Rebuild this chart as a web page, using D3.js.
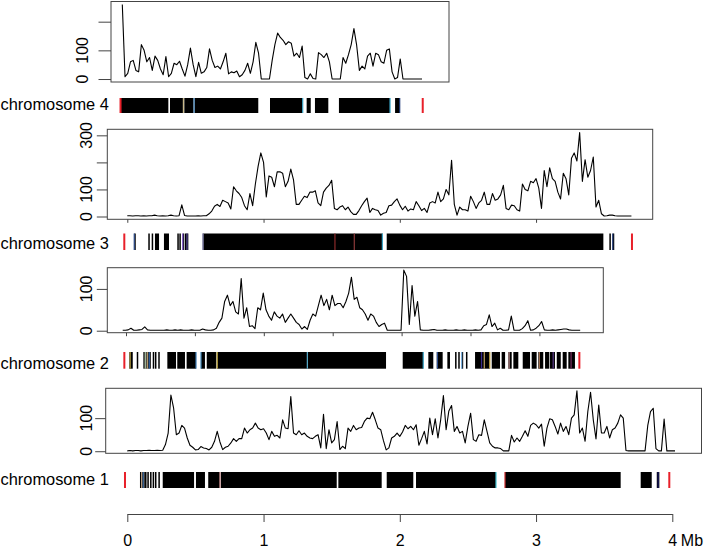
<!DOCTYPE html>
<html>
<head>
<meta charset="utf-8">
<title>Coverage along chromosomes</title>
<script src="https://d3js.org/d3.v7.min.js"></script>
<style>
  body { margin: 0; background: #fff; }
  svg text { font-family: "Liberation Sans", Arial, sans-serif; fill: #000; }
</style>
</head>
<body>
<svg width="705" height="547"></svg>
<script>
// ---------- data ----------
const chrNames = ["chromosome 4", "chromosome 3", "chromosome 2", "chromosome 1"]
const covStep = 0.02               // Mb between coverage points
const covStart = [0, 0, -0.024, 0] // Mb of first point

const chr4Cov = [260,8,20,60,65,30,25,120,100,60, 75,30,80,65,35,15,78,8,20,55,
  50,62,35,10,50,108,50,8,58,20, 25,40,105,65,40,45,35,60,90,18,
  25,22,28,8,15,30,55,20,60,128, 90,0,0,0,0,65,120,160,145,135,
  120,130,125,80,90,75,115,5,0,18, 2,0,92,85,75,90,60,0,0,0,
  0,75,55,85,120,176,118,30,45,35, 80,90,45,90,85,60,55,100,105,25,
  0,5,70,0,0,0,0,0,0,0, 0]

const chr3Cov = [3,3,2,3,3,2,3,2,3,3, 5,3,2,3,2,3,5,3,2,3,
  43,4,2,2,2,2,3,2,3,3, 10,20,38,45,37,60,55,50,28,110,
  95,85,70,40,25,85,40,120,185,235, 200,72,150,145,110,165,165,160,110,130,
  175,135,45,45,60,75,70,90,90,95, 50,40,90,105,115,134,30,25,35,40,
  25,35,18,8,8,22,40,55,68,15, 30,25,22,5,12,15,40,42,55,65,
  42,25,38,20,28,25,55,40,22,30, 15,50,55,50,90,55,65,100,80,208,
  45,5,35,25,25,20,75,55,30,50, 60,90,45,45,85,60,65,80,115,30,
  25,42,40,25,20,120,100,95,130,125, 140,105,30,170,110,180,140,130,90,65,
  160,140,80,215,235,205,310,130,210,145, 170,220,35,60,10,2,3,5,5,3,
  2,2,2,2,2,2]

const chr2Cov = [1,1,2,6,1,1,2,3,9,2, 1,1,1,1,1,1,2,1,1,2,
  1,2,1,1,1,2,1,1,1,4, 2,1,1,2,6,20,30,70,85,60,
  70,45,40,125,30,55,10,12,5,55, 50,90,50,35,25,45,35,30,40,20,
  30,40,30,20,15,4,10,3,25,40, 35,60,85,60,75,50,85,60,65,65,
  55,70,90,128,75,80,55,50,40,25, 40,35,20,10,15,18,1,1,1,1,
  1,1,145,130,15,108,35,70,2,1, 1,1,2,3,1,1,1,2,1,1,
  1,2,1,1,2,1,1,1,2,1, 2,12,15,38,10,18,2,6,1,1,
  2,35,1,1,1,5,12,24,1,2, 6,12,22,2,1,1,2,1,2,3,
  4,4,2,1,1,1,1]

const chr1Cov = [1,2,1,2,2,1,2,2,3,2, 2,3,2,3,20,55,170,130,50,55,
  78,70,40,18,12,4,5,14,10,8, 4,12,30,60,28,5,12,15,25,38,
  30,38,38,70,55,65,70,85,70,65, 68,55,35,60,45,48,40,95,70,68,
  165,55,50,62,50,55,45,40,38,45, 50,10,112,8,65,25,35,90,5,15,
  8,70,60,78,65,70,72,90,100,98, 118,95,70,65,32,4,10,40,45,55,
  45,58,78,68,75,65,80,18,38,60, 22,100,50,98,40,95,168,65,122,138,
  60,75,55,60,25,75,115,35,30,50, 48,95,60,25,15,10,10,8,1,1,
  1,48,28,40,30,45,62,45,78,85, 80,70,82,15,70,98,95,75,52,85,
  60,75,50,100,110,183,55,70,30,120, 178,95,37,140,55,55,75,40,65,70,
  85,110,100,2,1,1,1,1,1,1, 1,78,120,130,8,1,1,97,1,1,
  1,1]

// mapped segments along each chromosome, [start, end] in Mb
const chr4Blocks = [[-0.012,0.338],[0.350,0.445],[0.455,0.522],[0.532,0.998],[1.084,1.324],
  [1.353,1.383],[1.414,1.512],[1.590,1.965],[2.002,2.038]]
const chr3Blocks = [[0.051,0.051],[0.154,0.154],[0.179,0.179],[0.203,0.233],[0.269,0.306],
  [0.367,0.367],[0.382,0.382],[0.407,0.407],[0.423,0.448],[0.553,1.874],[1.904,3.494],
  [3.538,3.538],[3.563,3.563]]
const chr2Blocks = [[0.024,0.049],[0.078,0.078],[0.126,0.126],[0.140,0.140],[0.155,0.155],
  [0.169,0.169],[0.194,0.194],[0.210,0.210],[0.234,0.234],[0.300,0.363],[0.372,0.428],
  [0.440,0.508],[0.544,0.573],[0.586,0.653],[0.658,1.887],[2.008,2.157],[2.194,2.230],
  [2.255,2.298],[2.332,2.351],[2.388,2.388],[2.411,2.411],[2.436,2.436],[2.467,2.467],
  [2.533,2.642],[2.654,2.714],[2.726,2.751],[2.774,2.799],[2.811,2.847],[2.879,2.932],
  [2.944,2.980],[2.992,3.028],[3.041,3.072],[3.077,3.113],[3.126,3.155],[3.169,3.198],
  [3.210,3.258]]
const chr1Blocks = [[0.093,0.093],[0.106,0.106],[0.117,0.117],[0.130,0.130],[0.147,0.147],
  [0.167,0.167],[0.186,0.186],[0.203,0.203],[0.228,0.228],[0.260,0.490],[0.504,0.570],
  [0.594,0.680],[0.686,1.537],[1.549,1.867],[1.904,2.099],[2.119,2.706],[2.772,3.621],
  [3.768,3.849],[3.886,3.905]]

// thin coloured features inside the tracks
const chr4Accents = [[0.449,"#c8b98a"],[0.527,"#2b6ca3"],[1.324,"#3aa6c9"],[1.965,"#3aa6c9"],[2.036,"#1f3a7a"]]
const chr3Accents = [[0.051,"#2b4c8c"],[0.407,"#7b4fc9"],[0.438,"#5a4aa0"],[0.556,"#9090c0"],
  [1.524,"#8b2a2a"],[1.666,"#8b3a3a"],[1.872,"#3aa6c9"],[3.563,"#1f3a7a"]]
const chr2Accents = [[0.030,"#b8a040"],[0.140,"#a8c0a0"],[0.155,"#b59a6a"],[0.169,"#2b5c9c"],
  [0.508,"#3a78b0"],[0.544,"#4a90c0"],[0.662,"#c9b040"],[1.316,"#5ab0d0"],[2.157,"#3aa6c9"],
  [2.26,"#2b4c8c"],[2.436,"#7ab0e0"],[2.58,"#3a2a8a"],[2.60,"#c0a060"],[2.64,"#d0b050"],
  [2.78,"#c09090"],[3.00,"#a07050"],[3.10,"#5a3a8a"],[3.23,"#7a3060"]]
const chr1Accents = [[0.106,"#c0a080"],[0.117,"#3a6aa0"],[0.680,"#d09090"],[2.706,"#40c0d0"],
  [2.772,"#d03030"],[3.896,"#1a1a6a"]]

// red marks at chromosome ends (Mb)
const chrEnds = [[-0.013, 2.205], [-0.022, 3.704], [-0.012, 3.290], [-0.017, 3.978]]

const yTicks = [[0,100,200], [0,100,200,300], [0,100], [0,100]]
const yLabels = [[0,100], [0,100,300], [0,100], [0,100]]
const panelTicks = [[], [0,1,2,3], [0,0.5,1,1.5,2,2.5,3], []]
const mbTicks = [0,1,2,3,4]

const coverage = [chr4Cov, chr3Cov, chr2Cov, chr1Cov]
const blocks = [chr4Blocks, chr3Blocks, chr2Blocks, chr1Blocks]
const accents = [chr4Accents, chr3Accents, chr2Accents, chr1Accents]

// ---------- layout (pixels) ----------
const layout = [
  { x0: 122.3, ppm: 136.25, box: [111, 449, 1.5, 82], bar: [98, 113], labelY: 110, yLabelX: 82, tickLen: 12.5 },
  { x0: 127.3, ppm: 136.25, box: [107.3, 652.7, 129.3, 219.3], bar: [233.5, 250], labelY: 249, yLabelX: 86.5, tickLen: 10.5 },
  { x0: 126, ppm: 137.8, box: [107.3, 603.3, 267.7, 332.7], bar: [352, 368.7], labelY: 369, yLabelX: 86.5, tickLen: 10.5 },
  { x0: 127.3, ppm: 136.25, box: [105.7, 701.5, 388.3, 453.3], bar: [472, 488], labelY: 485, yLabelX: 86, tickLen: 10.5 }
]
const axisLayout = { x0: 127.3, ppm: 136.25, y: 514 }

const svg = d3.select("svg")
svg.append("rect").attr("width", 705).attr("height", 547).attr("fill", "#fff")

layout.forEach((L, k) => {
  const x = d3.scaleLinear().domain([0, 4]).range([L.x0, L.x0 + 4 * L.ppm])
  const vals = coverage[k]
  // R-like 4% padding of the data range
  const [lo, hi] = d3.extent(vals)
  const pad = (hi - lo) * 0.04
  const y = d3.scaleLinear().domain([lo - pad, hi + pad]).range([L.box[3], L.box[2]])

  const g = svg.append("g")

  // coverage line
  const line = d3.line()
    .x((d, i) => x(covStart[k] + i * covStep))
    .y(d => y(d))
  g.append("path")
    .datum(vals)
    .attr("d", line)
    .attr("fill", "none")
    .attr("stroke", "#000")
    .attr("stroke-width", 1.1)
    .attr("stroke-linejoin", "round")

  // frame
  g.append("rect")
    .attr("x", L.box[0]).attr("y", L.box[2])
    .attr("width", L.box[1] - L.box[0]).attr("height", L.box[3] - L.box[2])
    .attr("fill", "none").attr("stroke", "#444").attr("stroke-width", 1)

  // y axis ticks and rotated labels
  const yAxis = d3.axisLeft(y).tickValues(yTicks[k]).tickSize(L.tickLen).tickFormat("")
  const ya = g.append("g").attr("transform", `translate(${L.box[0]},0)`).call(yAxis)
  ya.select(".domain").remove()
  ya.selectAll("line").attr("stroke", "#444")
  yLabels[k].forEach(v => {
    g.append("text")
      .attr("transform", `translate(${L.yLabelX + 5.7},${y(v)}) rotate(-90)`)
      .attr("text-anchor", "middle")
      .style("font-size", "16px")
      .text(v)
  })

  // small x ticks under some panels
  if (panelTicks[k].length) {
    const xa = g.append("g").attr("transform", `translate(0,${L.box[3]})`)
      .call(d3.axisBottom(x).tickValues(panelTicks[k]).tickSize(3.5).tickFormat(""))
    xa.select(".domain").remove()
    xa.selectAll("line").attr("stroke", "#444")
  }

  // chromosome track
  const bh = L.bar[1] - L.bar[0]
  g.selectAll("rect.block")
    .data(blocks[k])
    .enter()
    .append("rect")
    .attr("class", "block")
    .attr("x", d => x(d[0]))
    .attr("y", L.bar[0])
    .attr("width", d => Math.max(1.5, x(d[1]) - x(d[0])))
    .attr("height", bh)
    .attr("fill", "#000")
  g.selectAll("rect.accent")
    .data(accents[k])
    .enter()
    .append("rect")
    .attr("class", "accent")
    .attr("x", d => x(d[0]) - 0.6)
    .attr("y", L.bar[0])
    .attr("width", 1.2)
    .attr("height", bh)
    .attr("fill", d => d[1])
  g.selectAll("rect.end")
    .data(chrEnds[k])
    .enter()
    .append("rect")
    .attr("class", "end")
    .attr("x", d => x(d) - 1)
    .attr("y", L.bar[0])
    .attr("width", 2)
    .attr("height", bh)
    .attr("fill", "#e8202a")

  g.append("text")
    .attr("x", 0.5)
    .attr("y", L.labelY)
    .style("font-size", "16.4px")
    .text(chrNames[k])
})

// bottom Mb axis
const xMb = d3.scaleLinear().domain([0, 4]).range([axisLayout.x0, axisLayout.x0 + 4 * axisLayout.ppm])
const ax = svg.append("g")
  .attr("transform", `translate(0,${axisLayout.y})`)
  .call(d3.axisBottom(xMb).tickValues(mbTicks).tickSize(8).tickSizeOuter(0).tickFormat(d => d))
ax.select(".domain").attr("stroke", "#444")
ax.selectAll("line").attr("stroke", "#444")
ax.selectAll("text")
  .attr("y", 31.5).attr("dy", 0)
  .style("font-size", "16px")
  .style("font-family", "'Liberation Sans', Arial, sans-serif")
  .attr("fill", "#000")
svg.append("text")
  .attr("x", xMb(4) + 8.5)
  .attr("y", axisLayout.y + 31.5)
  .style("font-size", "16px")
  .text("Mb")
</script>
</body>
</html>
